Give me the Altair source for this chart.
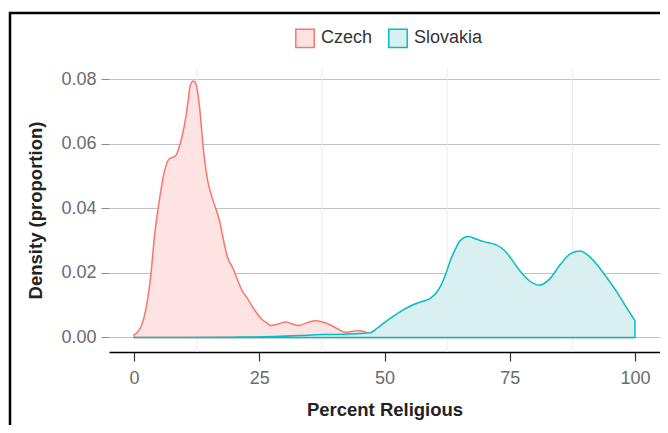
import altair as alt
import pandas as pd

countries = ["Czech", "Slovakia"]
line_colors = ["#F8766D", "#00BFC4"]
fill_colors = ["#FDE4E2", "#DAEFF0"]
x_ticks = [0, 25, 50, 75, 100]
y_ticks = [0, 0.02, 0.04, 0.06, 0.08]
minor_x = [12.5, 37.5, 62.5, 87.5]

czech_x = [0, 1.4, 2.4, 3.4, 4.05, 5.0, 6.0, 7.0, 7.7, 8.4, 9.0, 9.7, 10.4, 10.9, 11.2,
           11.8, 12.35, 13.15, 13.8, 14.7, 15.3, 16.3, 17.0, 18.3, 18.7, 19.7, 21.65,
           22.6, 23.6, 25.6, 26.6, 27.3, 28.8, 30.3, 31.6, 32.9, 34.6, 36.25, 37.6,
           38.9, 40.6, 42.2, 43.6, 44.9, 46.0, 46.9, 48.0, 50, 55, 100]
czech_y = [0.0008, 0.0034, 0.0091, 0.020, 0.031, 0.042, 0.051, 0.0553, 0.0558, 0.0565,
           0.059, 0.063, 0.069, 0.0745, 0.078, 0.0795, 0.0786, 0.0703, 0.059, 0.0486,
           0.0448, 0.040, 0.0365, 0.027, 0.0247, 0.0216, 0.0143, 0.0122, 0.0096, 0.0055,
           0.0044, 0.0037, 0.0042, 0.0048, 0.0042, 0.0037, 0.0046, 0.0052, 0.0048,
           0.0041, 0.0027, 0.0016, 0.0019, 0.0021, 0.0018, 0.0013, 0.0005, 0.0001, 0.0, 0.0]

slovakia_x = [0, 10, 20, 28, 33, 37.6, 42, 45, 47.2, 48.5, 49.9, 51.8, 53.8, 55.5, 57.2,
              59.2, 60.3, 61.2, 62.2, 63.1, 64.1, 65.1, 66.8, 68.3, 69.8, 72.1, 73.3,
              74.4, 75.7, 77.1, 79, 80.9, 82.9, 85.1, 87, 89.0, 90.6, 92.4, 94.3, 96.3,
              98.1, 100]
slovakia_y = [0.0, 0.0, 0.0001, 0.0003, 0.0006, 0.0009, 0.0010, 0.0012, 0.0015, 0.0028,
              0.0045, 0.0066, 0.0086, 0.0100, 0.0110, 0.0122, 0.0138, 0.0159, 0.0195,
              0.0237, 0.0272, 0.0300, 0.0313, 0.0305, 0.0297, 0.0288, 0.0278, 0.0262,
              0.0235, 0.0205, 0.0175, 0.0162, 0.0180, 0.0226, 0.0258, 0.0268, 0.0255,
              0.0226, 0.0187, 0.0143, 0.0098, 0.0052]

df = pd.concat([
    pd.DataFrame({"x": czech_x, "y": czech_y, "country": "Czech"}),
    pd.DataFrame({"x": slovakia_x, "y": slovakia_y, "country": "Slovakia"}),
], ignore_index=True)

xscale = alt.Scale(domain=[-5, 105], nice=False, zero=False)
yscale = alt.Scale(domain=[-0.0045, 0.0835], nice=False, zero=False)

xaxis = alt.Axis(values=x_ticks, grid=False, domainColor="black", domainWidth=1.5,
                 tickColor="#333333", tickSize=9, tickWidth=1.2, labelFontSize=18,
                 labelColor="#6b6b6b", labelPadding=8, titleFontSize=18.5,
                 titleFontWeight="bold", titleColor="#222222", titlePadding=13,
                 labelFlush=False)
yaxis = alt.Axis(values=y_ticks, format=".2f", grid=True, gridColor="#c2c2c2",
                 gridWidth=1.2, domain=False, tickColor="#8a8a8a", tickSize=8,
                 tickWidth=1, labelFontSize=18, labelColor="#6b6b6b", labelPadding=5,
                 titleFontSize=18.5, titleFontWeight="bold", titleColor="#222222",
                 titlePadding=15)

leg = alt.Legend(title=None, orient="none", legendX=186, legendY=-40,
                 direction="horizontal", symbolType="square", symbolSize=340,
                 symbolStrokeWidth=1.5, labelFontSize=18, labelColor="#333333",
                 columnPadding=12, labelOffset=6)

grid = alt.Chart(pd.DataFrame({"x": minor_x})).mark_rule(
    color="#ebebeb", strokeWidth=1
).encode(
    x=alt.X("x:Q", scale=xscale, axis=xaxis, title="Percent Religious")
)

area = alt.Chart(df).mark_area(strokeWidth=1.5, interpolate="monotone").encode(
    x=alt.X("x:Q", scale=xscale, axis=xaxis, title="Percent Religious"),
    y=alt.Y("y:Q", scale=yscale, stack=None, axis=yaxis, title="Density (proportion)"),
    y2=alt.datum(0),
    fill=alt.Fill("country:N", scale=alt.Scale(domain=countries, range=fill_colors), legend=leg),
    stroke=alt.Stroke("country:N", scale=alt.Scale(domain=countries, range=line_colors), legend=leg),
)

border = alt.Chart(pd.DataFrame({"a": [0]})).mark_rect(
    fillOpacity=0, stroke="black", strokeWidth=2.5
).encode(
    x=alt.value(-99), x2=alt.value(900), y=alt.value(-55), y2=alt.value(700)
)

chart = alt.layer(grid, area, border).properties(
    width=551, height=284,
    autosize=alt.AutoSizeParams(type="none"),
    padding={"left": 101, "top": 60, "right": 0, "bottom": 73},
).configure(font="Liberation Sans").configure_view(strokeOpacity=0)

chart.save("out.html", embed_options={"renderer": "svg", "actions": False})
